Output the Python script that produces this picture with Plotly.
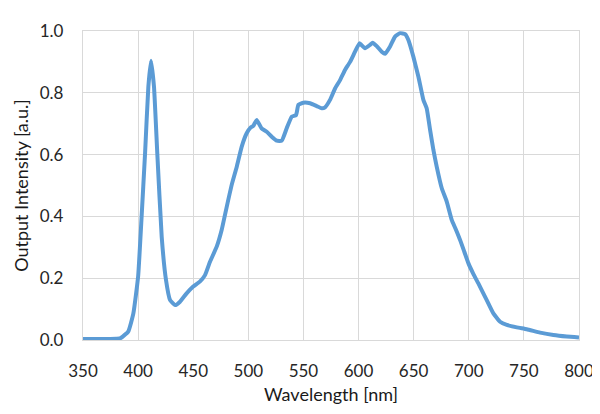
import plotly.graph_objects as go

wavelength = [350, 360, 370, 380, 383.6, 391, 395.7, 400, 403, 406.3, 409.3, 411.7, 414.4, 417.4,
              421.4, 425.3, 429, 433.5, 438, 444, 450, 456, 460.7, 465.2, 471.3, 475.8, 480.4,
              484.9, 489.5, 494, 498.5, 502.2, 504.5, 507.6, 512, 516.7, 521.2, 525.8, 530.3,
              534.8, 539.4, 543.3, 545.4, 550, 556, 562, 566.6, 569.6, 574.1, 578.7, 583.2,
              587.7, 592.3, 596.8, 600.8, 605.9, 610.4, 612.8, 616.5, 621, 624, 628.6, 633.1,
              637.7, 642.2, 645.2, 649.7, 654.3, 658.8, 661.8, 664.9, 667.9, 670.9, 675.5, 680,
              684.6, 688, 692.1, 695.5, 699.7, 704, 708.7, 716.3, 722.3, 728.4, 734.5, 743.6,
              752.6, 764.7, 776.8, 788.9, 800]
intensity = [0.003, 0.003, 0.003, 0.004, 0.005, 0.027, 0.086, 0.205, 0.388, 0.604, 0.82, 0.904,
             0.82, 0.604, 0.334, 0.194, 0.129, 0.113, 0.124, 0.151, 0.173, 0.189, 0.21, 0.253,
             0.302, 0.356, 0.431, 0.502, 0.561, 0.626, 0.669, 0.688, 0.693, 0.712, 0.685, 0.674,
             0.658, 0.645, 0.645, 0.685, 0.723, 0.728, 0.761, 0.768, 0.766, 0.757, 0.75, 0.753,
             0.777, 0.814, 0.841, 0.874, 0.90, 0.933, 0.96, 0.944, 0.955, 0.962, 0.951, 0.933,
             0.926, 0.95, 0.982, 0.993, 0.99, 0.971, 0.917, 0.852, 0.777, 0.75, 0.68, 0.615,
             0.561, 0.491, 0.448, 0.388, 0.36, 0.324, 0.29, 0.248, 0.215, 0.183, 0.129, 0.086,
             0.059, 0.049, 0.041, 0.035, 0.024, 0.016, 0.011, 0.008]

x_ticks = [350, 400, 450, 500, 550, 600, 650, 700, 750, 800]
y_ticks = [0.0, 0.2, 0.4, 0.6, 0.8, 1.0]

fig = go.Figure()
fig.add_trace(go.Scatter(x=wavelength, y=intensity, mode="lines",
                         line=dict(color="#5B9BD5", width=4, shape="spline", smoothing=0.4),
                         showlegend=False))

font_family = "Lato, 'Open Sans', sans-serif"
grid = "#D9D9D9"
fig.update_layout(
    width=600, height=414,
    margin=dict(l=75, r=29, t=23, b=82),
    paper_bgcolor="white", plot_bgcolor="white",
    font=dict(family=font_family, size=17, color="#262626"),
    xaxis=dict(range=[350, 800], tickvals=x_ticks, showgrid=True, gridcolor=grid, gridwidth=1.3,
               showline=True, linecolor=grid, linewidth=1.3, mirror=True, zeroline=False,
               ticks="outside", ticklen=15, tickcolor="white",
               title=dict(text="Wavelength [nm]", standoff=8,
                          font=dict(size=18, color="#1a1a1a"))),
    yaxis=dict(range=[0, 1.0], tickvals=y_ticks, tickformat=".1f", showgrid=True, gridcolor=grid,
               gridwidth=1.3, showline=True, linecolor=grid, linewidth=1.3, mirror=True,
               zeroline=False, ticks="outside", ticklen=15, tickcolor="white",
               title=dict(text="Output Intensity [a.u.]", standoff=6,
                          font=dict(size=18, color="#1a1a1a"))),
)

fig.write_html("out.html")
